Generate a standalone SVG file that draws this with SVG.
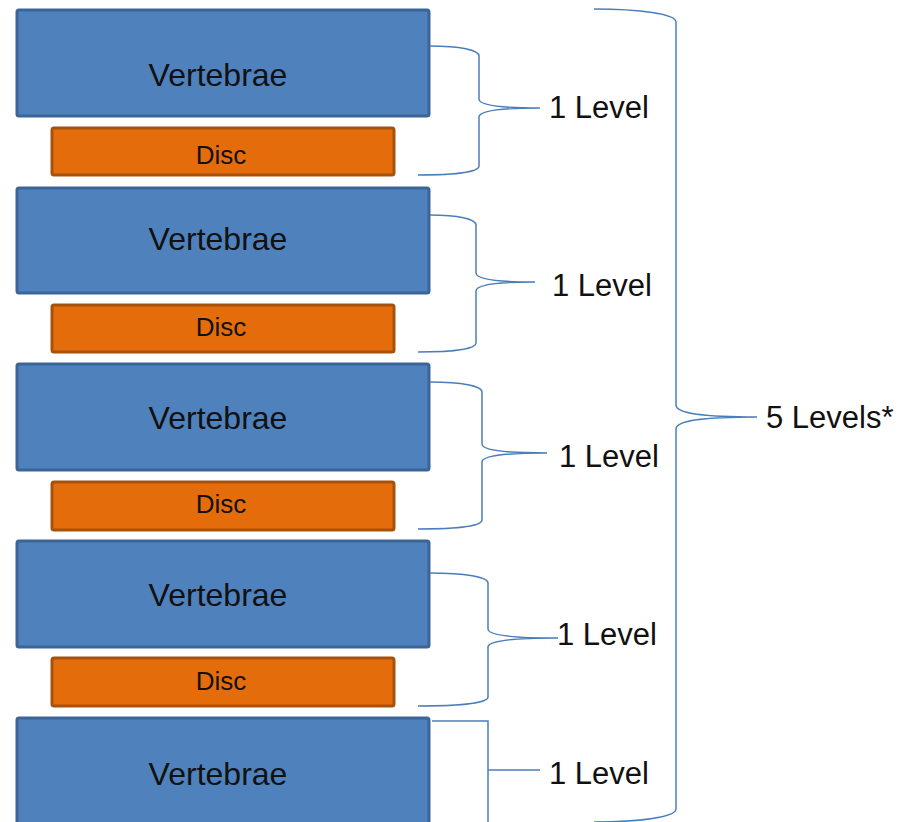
<svg xmlns="http://www.w3.org/2000/svg" width="898" height="822" viewBox="0 0 898 822">
<style>
.v{fill:#4f81bd;stroke:#3b6497;stroke-width:3}
.d{fill:#e46c0a;stroke:#a6520d;stroke-width:3}
.tv{font-family:"Liberation Sans",Arial,sans-serif;font-size:32px;fill:#111;text-anchor:middle}
.td{font-family:"Liberation Sans",Arial,sans-serif;font-size:26px;fill:#111;text-anchor:middle}
.tl{font-family:"Liberation Sans",Arial,sans-serif;font-size:31px;fill:#111}
.b{fill:none;stroke:#4a7ebb;stroke-width:1.5}
</style>
<rect width="898" height="822" fill="#fff"/>
<g id="vertebrae1"><rect class="v" x="17" y="10" width="412" height="106" rx="2"/><text class="tv" x="218" y="86">Vertebrae</text></g>
<g id="disc1"><rect class="d" x="52" y="128" width="342" height="47" rx="2"/><text class="td" x="221" y="164">Disc</text></g>
<g id="vertebrae2"><rect class="v" x="17" y="188" width="412" height="105" rx="2"/><text class="tv" x="218" y="250">Vertebrae</text></g>
<g id="disc2"><rect class="d" x="52" y="305" width="342" height="47" rx="2"/><text class="td" x="221" y="336">Disc</text></g>
<g id="vertebrae3"><rect class="v" x="17" y="364" width="412" height="106" rx="2"/><text class="tv" x="218" y="429">Vertebrae</text></g>
<g id="disc3"><rect class="d" x="52" y="482" width="342" height="48" rx="2"/><text class="td" x="221" y="513">Disc</text></g>
<g id="vertebrae4"><rect class="v" x="17" y="541" width="412" height="106" rx="2"/><text class="tv" x="218" y="606">Vertebrae</text></g>
<g id="disc4"><rect class="d" x="52" y="658" width="342" height="48" rx="2"/><text class="td" x="221" y="690">Disc</text></g>
<g id="vertebrae5"><rect class="v" x="17" y="718" width="412" height="120" rx="2"/><text class="tv" x="218" y="785">Vertebrae</text></g>
<g id="connectors">
<path class="b" d="M430 46 C460 46 479 50 479 56 L479 99 C479 105 500 108 540 108 C500 108 479 111 479 117 L479 166 C479 172 455 175 418 175"/>
<path class="b" d="M430 215 C458 215 476 219 476 225 L476 273 C476 279 497 282 535 282 C497 282 476 285 476 291 L476 343 C476 349 453 352 418 352"/>
<path class="b" d="M430 382 C462 382 482 386 482 392 L482 444 C482 450 505 453 547 453 C505 453 482 456 482 462 L482 520 C482 526 458 529 418 529"/>
<path class="b" d="M430 573 C465 573 488 577 488 583 L488 629 C488 635 510 638 558 638 C510 638 488 641 488 647 L488 697 C488 703 460 706 418 706"/>
<path class="b" d="M432 721 L488 721 L488 830 M488 770 L540 770"/>
<path class="b" d="M594 9 C640 9 676 14 676 22 L676 405 C676 413 700 417 757 417 C700 417 676 421 676 429 L676 809 C676 817 640 822 594 822"/>
</g>
<g id="labels">
<text class="tl" x="549" y="118">1 Level</text>
<text class="tl" x="552" y="296">1 Level</text>
<text class="tl" x="559" y="467">1 Level</text>
<text class="tl" x="557" y="645">1 Level</text>
<text class="tl" x="549" y="784">1 Level</text>
<text class="tl" x="766" y="428">5 Levels*</text>
</g>
</svg>
